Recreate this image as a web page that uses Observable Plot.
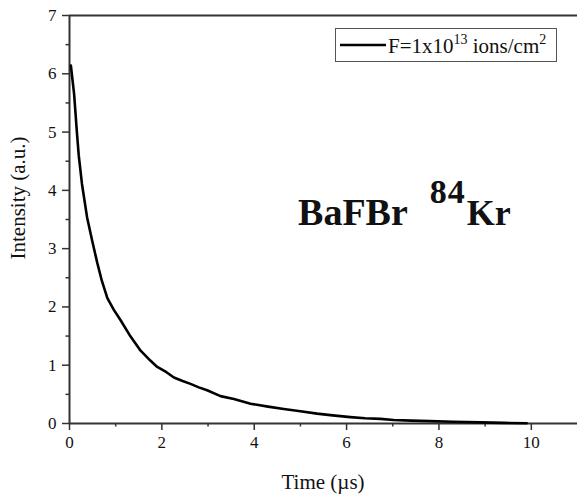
<!DOCTYPE html>
<html><head><meta charset="utf-8">
<script src="https://cdn.jsdelivr.net/npm/d3@7"></script>
<script src="https://cdn.jsdelivr.net/npm/@observablehq/plot@0.6"></script>
<style>
body{margin:0;background:#fff}
#chart{width:577px;height:494px}
#chart svg text{font-family:"Liberation Serif","Times New Roman",serif !important}
</style>
</head><body><div id="chart"></div>
<script>
// Decay curve (time in µs, intensity in a.u.)
const time = [0.03, 0.1, 0.16, 0.2, 0.27, 0.38, 0.49, 0.6, 0.7, 0.82, 0.96, 1.1, 1.3, 1.54, 1.75, 1.9, 2.1, 2.26, 2.45, 2.62, 2.8, 2.98, 3.27, 3.56, 3.92, 4.3, 4.64, 5.0, 5.36, 5.7, 6.08, 6.4, 6.73, 7.02, 7.4, 7.81, 8.3, 8.9, 9.4, 9.9];
const intensity = [6.14, 5.65, 5.0, 4.6, 4.11, 3.54, 3.14, 2.76, 2.45, 2.15, 1.95, 1.78, 1.52, 1.25, 1.08, 0.97, 0.88, 0.79, 0.73, 0.68, 0.62, 0.57, 0.47, 0.42, 0.34, 0.29, 0.25, 0.21, 0.17, 0.14, 0.11, 0.09, 0.08, 0.06, 0.05, 0.04, 0.03, 0.02, 0.01, 0.005];
const xMajorTicks = [0, 2, 4, 6, 8, 10];
const xMinorTicks = [1, 3, 5, 7, 9];
const yMajorTicks = [0, 1, 2, 3, 4, 5, 6, 7];
const yMinorTicks = [0.5, 1.5, 2.5, 3.5, 4.5, 5.5, 6.5];
const xLabel = "Time (µs)";
const yLabel = "Intensity (a.u.)";
const seriesLabel = ["F=1x10", "13", " ions/cm", "2"];
const annotation = {x: 4.96, y: 3.4, main: "BaFBr", sup: "84", tail: "Kr"};

const data = time.map((t, i) => ({t, v: intensity[i]}));
const axisColor = "#333";
const font = "Liberation Serif";

const plot = Plot.plot({
  width: 577, height: 494,
  marginTop: 15, marginLeft: 69, marginRight: 0, marginBottom: 71,
  style: {fontFamily: font, fontSize: "17px", color: "#000", background: "#fff", overflow: "visible"},
  x: {domain: [0, 11]},
  y: {domain: [0, 7]},
  marks: [
    Plot.axisX(xMajorTicks, {tickSize: 7, tickPadding: 5, stroke: axisColor, strokeWidth: 1.5, label: null, fontSize: 17, fill: "#111", tickFormat: d => String(d)}),
    Plot.axisX(xMinorTicks, {tickSize: 3.5, text: null, stroke: axisColor, strokeWidth: 1.5, label: null}),
    Plot.axisY(yMajorTicks, {tickSize: 7, tickPadding: 6, stroke: axisColor, strokeWidth: 1.5, label: null, fontSize: 17, fill: "#111", tickFormat: d => String(d)}),
    Plot.axisY(yMinorTicks, {tickSize: 3.5, text: null, stroke: axisColor, strokeWidth: 1.5, label: null}),
    Plot.ruleY([0], {stroke: axisColor, strokeWidth: 2}),
    Plot.ruleY([7], {stroke: axisColor, strokeWidth: 2}),
    Plot.ruleX([0], {stroke: axisColor, strokeWidth: 2}),
    Plot.line(data, {x: "t", y: "v", stroke: "#000", strokeWidth: 2.6, curve: "linear"})
  ]
});
document.getElementById("chart").appendChild(plot);

const svg = d3.select(plot);
svg.selectAll("text").attr("font-family", font).style("font-variant", "normal");
const xs = plot.scale("x"), ys = plot.scale("y");

// axis titles
svg.append("text").attr("x", 323).attr("y", 489).attr("text-anchor", "middle")
  .attr("font-family", font).attr("font-size", 21).attr("fill", "#111").text(xLabel);
svg.append("text").attr("transform", "translate(25,198) rotate(-90)").attr("text-anchor", "middle")
  .attr("font-family", font).attr("font-size", 21).attr("fill", "#111").text(yLabel);

// legend
const lg = svg.append("g");
lg.append("rect").attr("x", 335.5).attr("y", 28.5).attr("width", 221).attr("height", 33)
  .attr("fill", "#fff").attr("stroke", "#555").attr("stroke-width", 1);
lg.append("line").attr("x1", 340).attr("x2", 386).attr("y1", 45).attr("y2", 45)
  .attr("stroke", "#000").attr("stroke-width", 2.6);
const lt = lg.append("text").attr("x", 388).attr("y", 53).attr("text-anchor", "start").attr("font-family", font)
  .attr("font-size", 21).attr("fill", "#111");
lt.append("tspan").text(seriesLabel[0]);
lt.append("tspan").attr("font-size", 14).attr("dy", -9).text(seriesLabel[1]);
lt.append("tspan").attr("dy", 9).text(seriesLabel[2]);
lt.append("tspan").attr("font-size", 14).attr("dy", -9).text(seriesLabel[3]);

// annotation
const ax = xs.apply(annotation.x), ay = ys.apply(annotation.y);
const at = svg.append("text").attr("x", ax).attr("y", ay).attr("text-anchor", "start").attr("font-family", font)
  .attr("font-weight", "bold").attr("font-size", 38).attr("fill", "#111");
at.append("tspan").text(annotation.main);
at.append("tspan").attr("font-size", 34).attr("letter-spacing", 1).attr("dx", 22).attr("dy", -22).text(annotation.sup);
at.append("tspan").attr("font-size", 36).attr("letter-spacing", 0).attr("dx", 1).attr("dy", 22).text(annotation.tail);
</script>
</body></html>
